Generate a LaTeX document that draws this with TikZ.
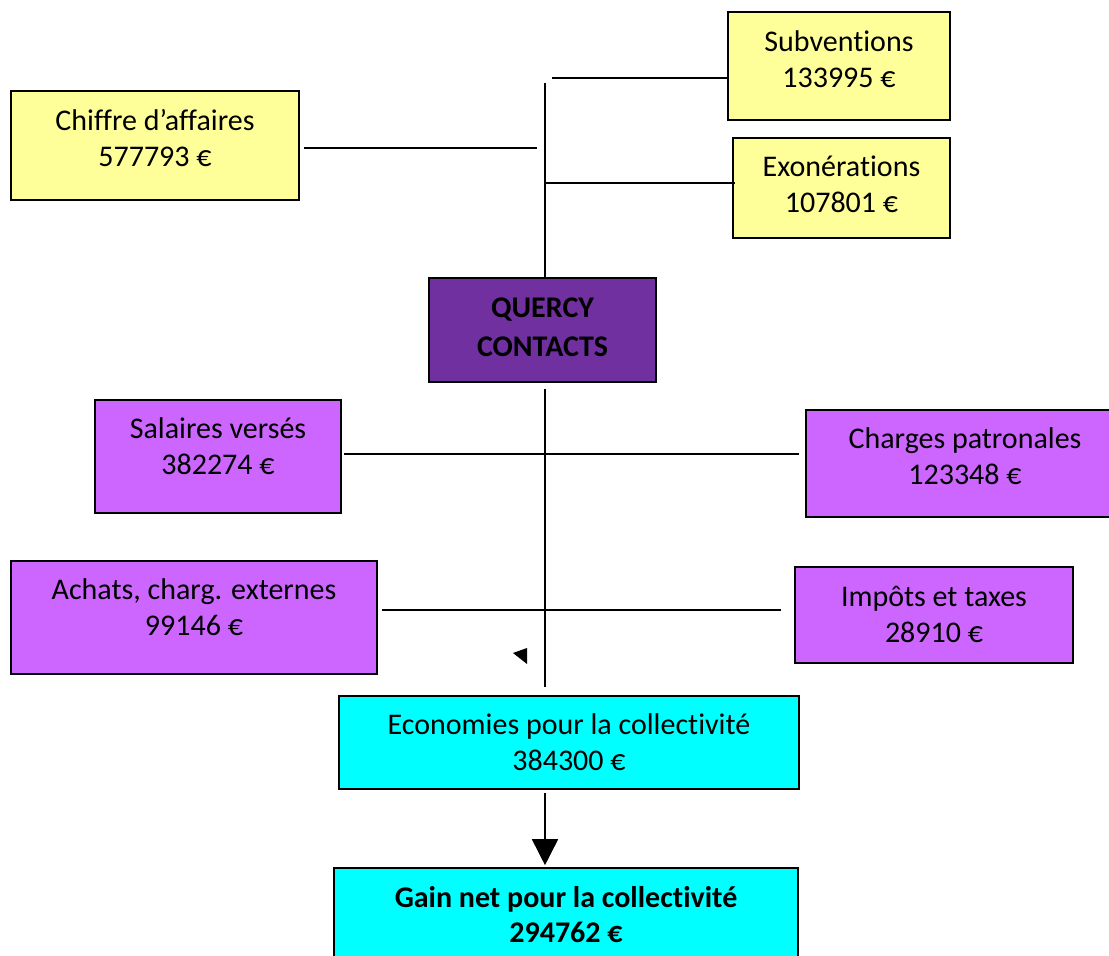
\documentclass[tikz,border=0pt]{standalone}
\usepackage{fontspec}
\setmainfont{Carlito}[Ligatures=NoCommon]
\usetikzlibrary{arrows.meta}
\definecolor{qcjaune}{HTML}{FFFF99}
\definecolor{qcviolet}{HTML}{7030A0}
\definecolor{qcmauve}{HTML}{CC66FF}
\definecolor{qccyan}{HTML}{00FFFF}
\tikzset{
  box/.style={draw, line width=1.6pt, inner sep=0pt},
  txt/.style={align=center, inner sep=0pt, font=\fontsize{30}{36}\selectfont},
  boldtxt/.style={txt, font=\fontsize{30}{39}\selectfont\bfseries},
  trait/.style={line width=1.6pt}
}
\begin{document}
\begin{tikzpicture}[x=1pt, y=-1pt]
\useasboundingbox (0,0) rectangle (1109,956);

% recettes
\node[box, fill=qcjaune, minimum width=222, minimum height=108,
  label={[txt, yshift=6.5]center:Subventions\\133995 €}] (sub) at (839,66) {};
\node[box, fill=qcjaune, minimum width=288, minimum height=109,
  label={[txt, yshift=7.5]center:Chiffre d’affaires\\577793 €}] (chiffre) at (155,145.5) {};
\node[box, fill=qcjaune, minimum width=217, minimum height=100,
  label={[txt, yshift=4]center:Exonérations\\107801 €}] (exo) at (841.5,188) {};

\node[box, fill=qcviolet, minimum width=227, minimum height=104,
  label={[boldtxt, yshift=2.5]center:QUERCY\\CONTACTS}] (quercy) at (542.5,330) {};

% depenses
\node[box, fill=qcmauve, minimum width=246, minimum height=113,
  label={[txt, yshift=10]center:Salaires versés\\382274 €}] (salaires) at (218,456.5) {};
\node[box, fill=qcmauve, minimum width=306, minimum height=107,
  label={[txt, xshift=6, yshift=7.5]center:Charges patronales\\123348 €}] (charges) at (959,463.5) {};
\node[box, fill=qcmauve, minimum width=366, minimum height=113,
  label={[txt, yshift=10]center:Achats, charg. externes\\99146 €}] (achats) at (194,617.5) {};
\node[box, fill=qcmauve, minimum width=278, minimum height=96,
  label={[txt, yshift=1]center:Impôts et taxes\\28910 €}] (impots) at (934,615) {};

\node[box, fill=qccyan, minimum width=460, minimum height=93,
  label={[txt]center:Economies pour la collectivité\\384300 €}] (econ) at (569,742.5) {};
\node[box, fill=qccyan, minimum width=464, minimum height=98,
  label={[boldtxt, font=\fontsize{30}{35}\selectfont\bfseries, yshift=2.5]center:Gain net pour la collectivité\\294762 €}] (gain) at (566,917) {};

\coordinate (haut) at (545,83);
\coordinate (jsub) at (552,78);
\coordinate (jchiffre) at (537,148);
\coordinate (jexo) at (545,183);
\coordinate (jsal) at (545,454);
\coordinate (jach) at (545,610);

\begin{scope}[trait]
\draw (haut) -- (haut |- quercy.north); %haut-quercy
\draw (jsub) -- (jsub -| sub.west); %sub
\draw [shorten <=4pt] (jchiffre -| chiffre.east) -- (jchiffre); %chiffre
\draw (jexo) -- ([xshift=3pt]jexo -| exo.west); %exo
\draw [shorten <=6pt, shorten >=8pt] (quercy.south -| haut) -- (econ.north -| haut); %quercy-econ
\draw [shorten <=2pt, shorten >=6pt] (jsal -| salaires.east) -- (jsal -| charges.west); %salaires-charges
\draw [shorten <=4pt, shorten >=13pt] (jach -| achats.east) -- (jach -| impots.west); %achats-impots
\end{scope}

\draw [trait, -{Triangle[width=26pt, length=26pt]}, shorten <=3pt, shorten >=2pt] (econ.south -| haut) -- (gain.north -| haut); %econ-gain

\fill (513,653) -- (527,648) -- (527,664) -- cycle;

\end{tikzpicture}
\end{document}
